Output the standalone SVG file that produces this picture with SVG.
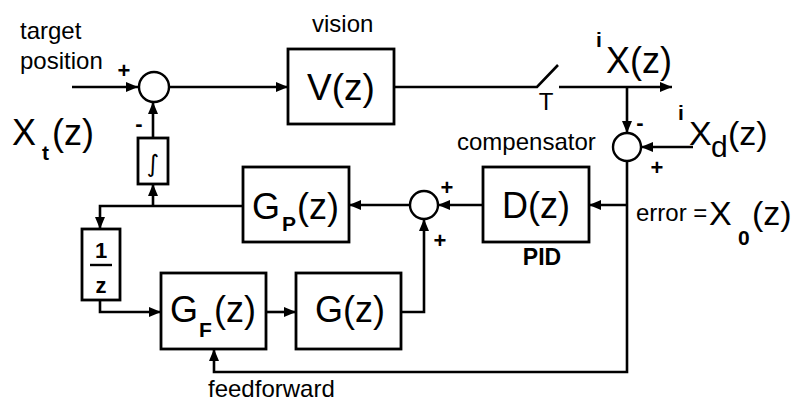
<svg xmlns="http://www.w3.org/2000/svg" width="793" height="403" viewBox="0 0 793 403">
<defs>
<marker id="ah" viewBox="0 0 12 10" refX="12" refY="5" markerWidth="12" markerHeight="10" markerUnits="userSpaceOnUse" orient="auto">
<path d="M0,0 L12,5 L0,10 z" fill="#000"/>
</marker>
<style>
.box{fill:#fff;stroke:#000;stroke-width:2.8}
.sum{fill:#fff;stroke:#000;stroke-width:2.4}
.ln{fill:none;stroke:#000;stroke-width:2.6}
.ar{marker-end:url(#ah)}
text{font-family:"Liberation Sans",Arial,sans-serif;fill:#000}
.lbl{font-size:24px}
.big{font-size:36px}
.sub{font-size:21px;font-weight:bold}
.sign{font-size:22px;font-weight:bold}
</style>
</defs>
<rect width="793" height="403" fill="#fff"/>

<g id="connectors">
<path class="ln ar" d="M72,87 H138"/>
<path class="ln ar" d="M169,87 H288"/>
<path class="ln" d="M394,87 H537 L558,65"/>
<path class="ln ar" d="M559,87 H672"/>
<path class="ln ar" d="M627,87 V133"/>
<path class="ln ar" d="M693,147 H641"/>
<path class="ln ar" d="M627,161 V372 H214 V349"/>
<path class="ln ar" d="M627,205 H589"/>
<path class="ln ar" d="M483,205 H438"/>
<path class="ln ar" d="M410,205 H349"/>
<path class="ln ar" d="M243,206 H100 V229"/>
<path class="ln ar" d="M153,206 V184"/>
<path class="ln ar" d="M153,138 V102"/>
<path class="ln ar" d="M100,300 V312 H161"/>
<path class="ln ar" d="M266,312 H296"/>
<path class="ln ar" d="M401,312 H424 V219"/>
</g>

<g id="labels">
<text class="lbl" x="20" y="39">target</text>
<text class="lbl" x="20" y="69">position</text>
<text class="sign" x="124" y="78" text-anchor="middle">+</text>
<text class="sign" x="139" y="131" text-anchor="middle">-</text>
<text class="big" x="12" y="145">X<tspan class="sub" x="42" y="160">t</tspan><tspan x="52" y="145">(z)</tspan></text>
<text class="lbl" x="312" y="32">vision</text>
<text x="546" y="110" text-anchor="middle" style="font-size:24px">T</text>
<text class="big" x="597" y="73"><tspan class="sub" x="596" y="47">i</tspan><tspan x="606" y="73">X(z)</tspan></text>
<text class="lbl" x="457" y="150">compensator</text>
<text class="sign" x="640" y="130" text-anchor="middle">-</text>
<text class="sign" x="657" y="175" text-anchor="middle">+</text>
<text style="font-size:34px" x="689" y="145"><tspan class="sub" x="678" y="120">i</tspan><tspan x="689" y="145">X</tspan><tspan x="711" y="157" style="font-size:30px">d</tspan><tspan x="728" y="145">(z)</tspan></text>
<text class="sign" x="447" y="195" text-anchor="middle">+</text>
<text class="sign" x="440" y="248" text-anchor="middle">+</text>
<text class="lbl" x="636" y="221">error =</text>
<text style="font-size:34px" x="709" y="225">X<tspan class="sub" x="738" y="245">0</tspan><tspan x="752" y="225">(z)</tspan></text>
<text class="lbl" x="208" y="397">feedforward</text>
</g>

<g id="sum1"><circle class="sum" cx="154" cy="87" r="15"/></g>
<g id="sum2"><circle class="sum" cx="424" cy="205" r="14"/></g>
<g id="sum3"><circle class="sum" cx="627" cy="147" r="14"/></g>

<g id="V">
<rect class="box" x="288" y="49" width="106" height="75"/>
<text class="big" x="341" y="100" text-anchor="middle" style="font-size:37px">V(z)</text>
</g>

<g id="integrator">
<rect class="box" x="138" y="138" width="30" height="46"/>
<text x="153" y="172" text-anchor="middle" style="font-family:'DejaVu Sans',sans-serif;font-size:24px">∫</text>
</g>

<g id="GP">
<rect class="box" x="243" y="167" width="106" height="75"/>
<text class="big" x="252" y="219">G<tspan class="sub" x="282" y="231">P</tspan><tspan x="297" y="219">(z)</tspan></text>
</g>

<g id="D">
<rect class="box" x="483" y="167" width="106" height="75"/>
<text class="big" x="536" y="218" text-anchor="middle">D(z)</text>
<text x="542" y="265" text-anchor="middle" style="font-size:23px;font-weight:bold">PID</text>
</g>

<g id="delay">
<rect class="box" x="82" y="229" width="38" height="71"/>
<text x="101" y="258" text-anchor="middle" style="font-size:22px;font-weight:bold">1</text>
<line x1="90" y1="265" x2="112" y2="265" stroke="#000" stroke-width="2.4"/>
<text x="101" y="293" text-anchor="middle" style="font-size:22px;font-weight:bold">z</text>
</g>

<g id="GF">
<rect class="box" x="161" y="273" width="105" height="76"/>
<text class="big" x="170" y="322">G<tspan class="sub" x="199" y="337">F</tspan><tspan x="214" y="322">(z)</tspan></text>
</g>

<g id="G">
<rect class="box" x="296" y="273" width="105" height="76"/>
<text class="big" x="350" y="322" text-anchor="middle">G(z)</text>
</g>
</svg>
